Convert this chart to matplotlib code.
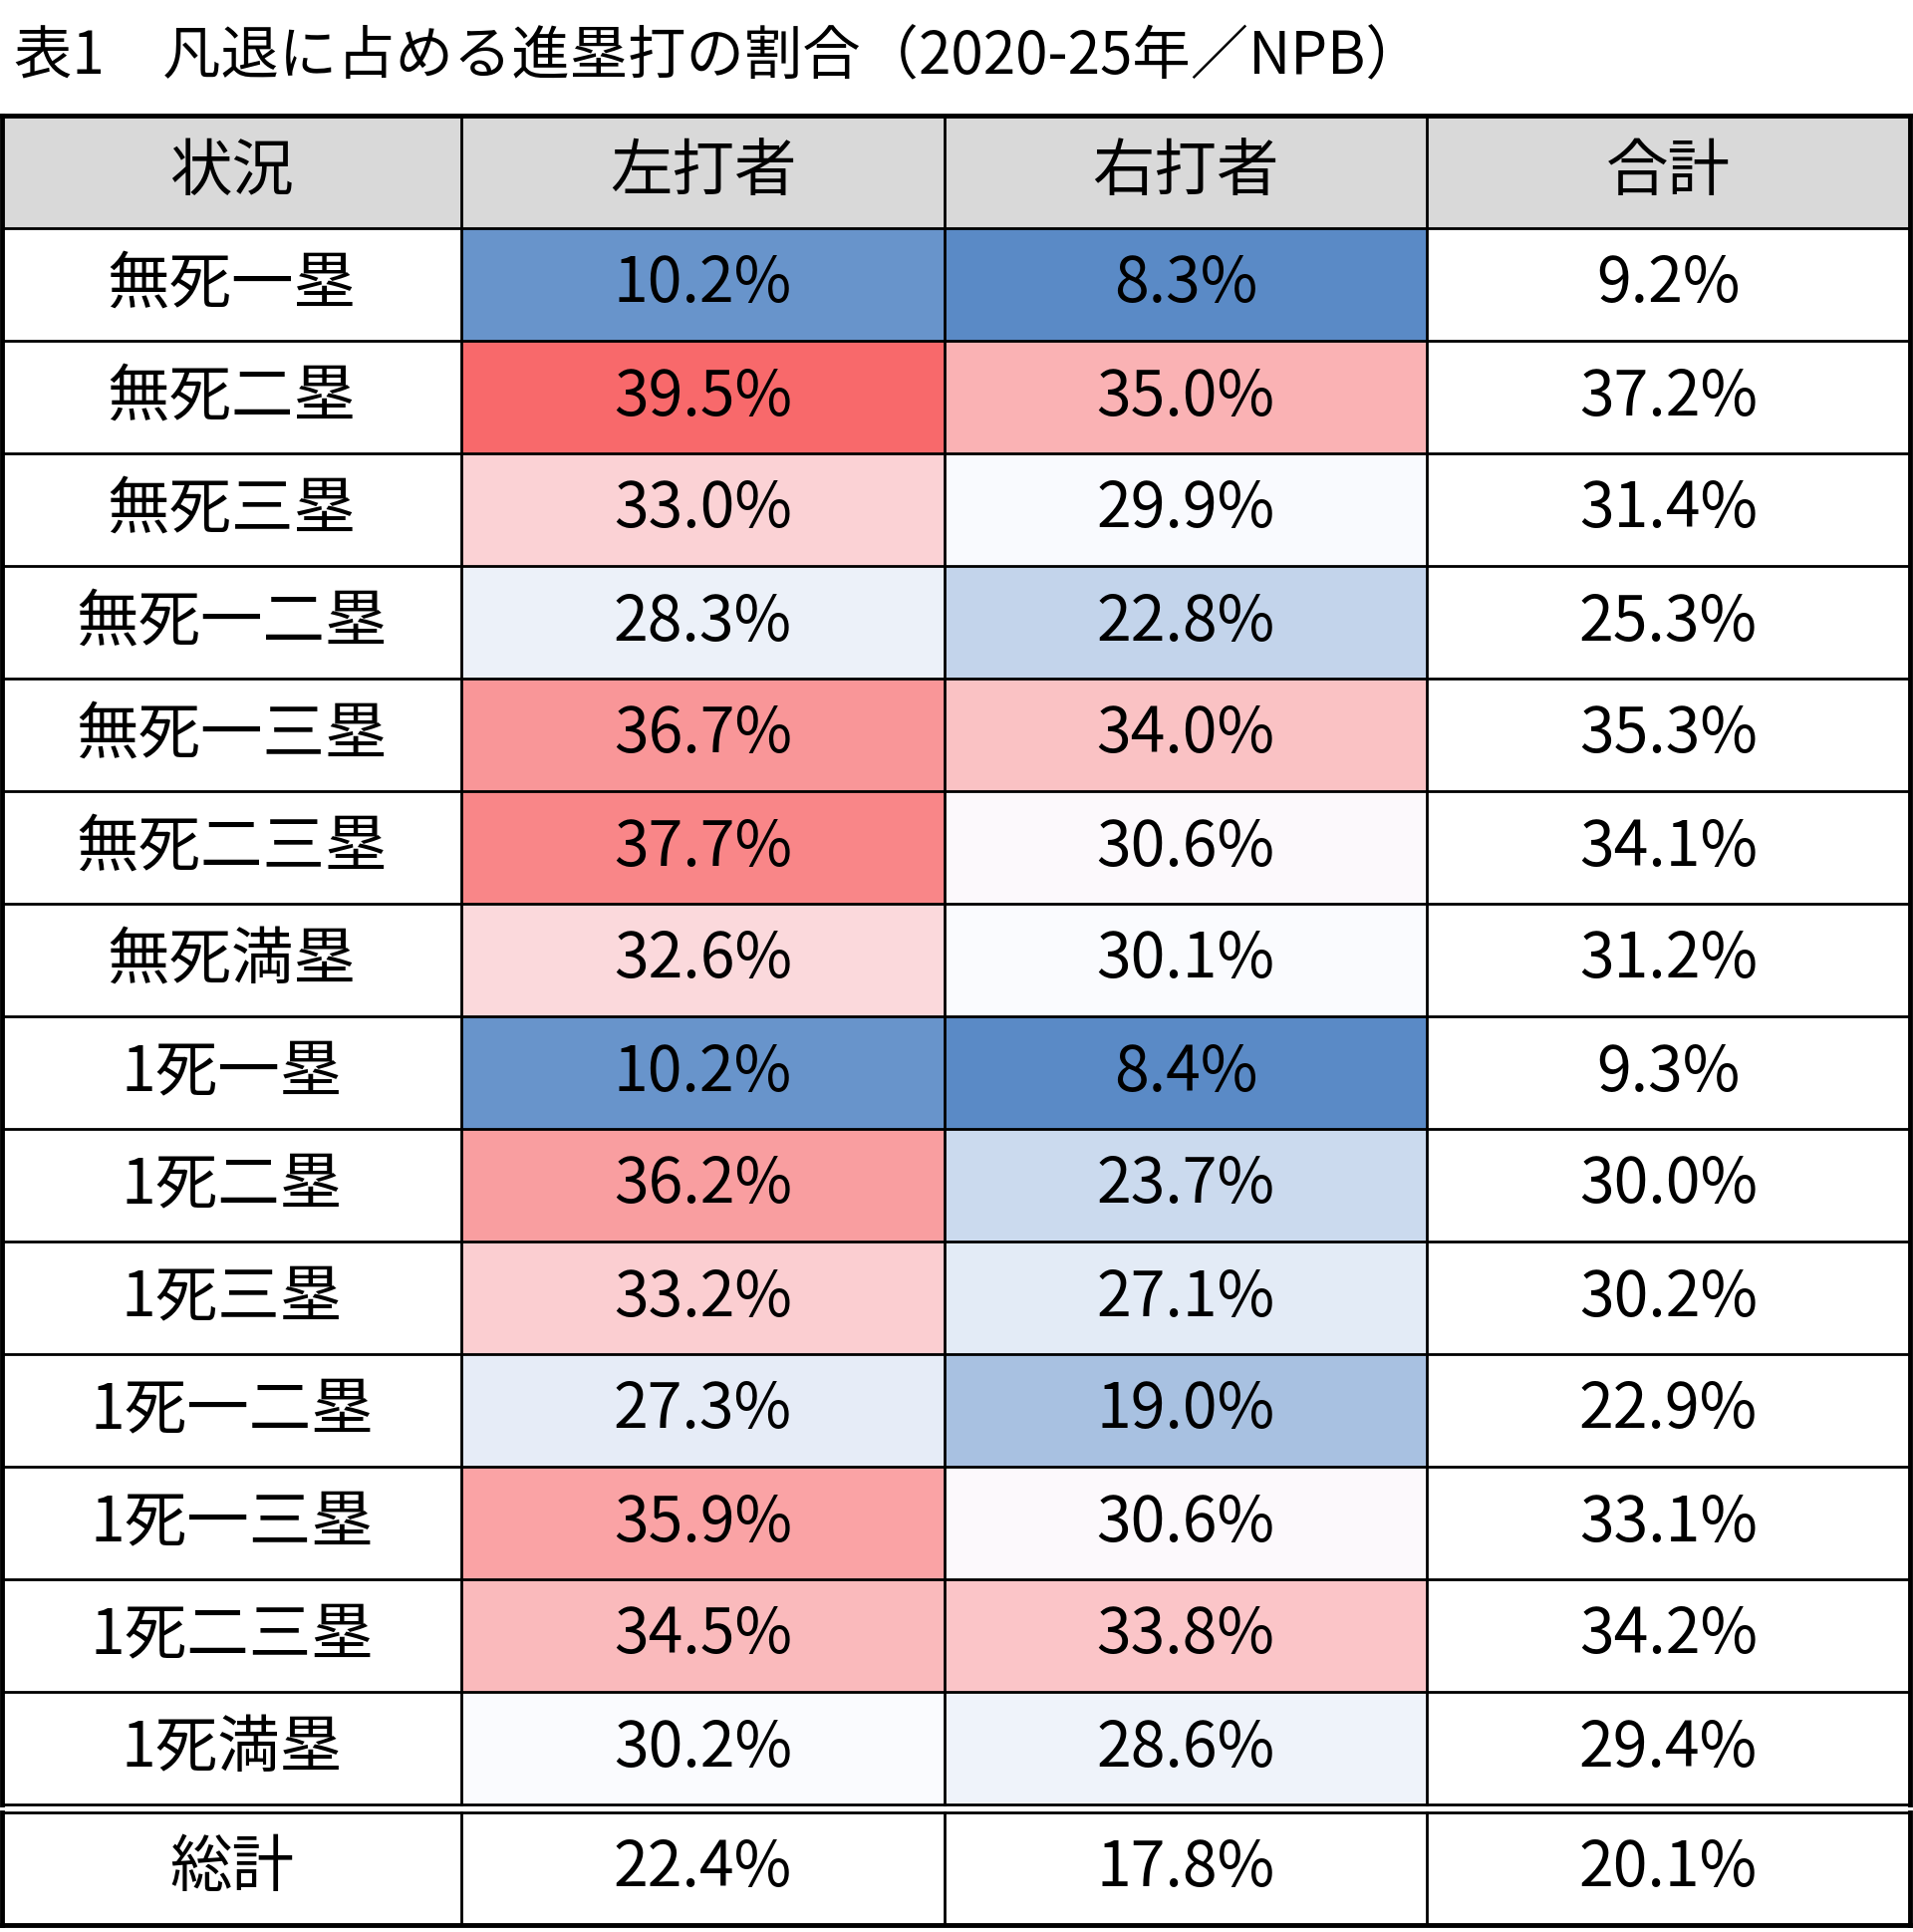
import matplotlib
matplotlib.use("Agg")
import matplotlib.pyplot as plt
from matplotlib.colors import LinearSegmentedColormap, TwoSlopeNorm
from matplotlib.patches import Rectangle

plt.rcParams['font.family'] = ['Noto Sans CJK JP', 'DejaVu Sans']

title = "表1　凡退に占める進塁打の割合（2020-25年／NPB）"
headers = ["状況", "左打者", "右打者", "合計"]
situations = ["無死一塁", "無死二塁", "無死三塁", "無死一二塁", "無死一三塁", "無死二三塁", "無死満塁",
              "1死一塁", "1死二塁", "1死三塁", "1死一二塁", "1死一三塁", "1死二三塁", "1死満塁"]
left = [10.2, 39.5, 33.0, 28.3, 36.7, 37.7, 32.6, 10.2, 36.2, 33.2, 27.3, 35.9, 34.5, 30.2]
right = [8.3, 35.0, 29.9, 22.8, 34.0, 30.6, 30.1, 8.4, 23.7, 27.1, 19.0, 30.6, 33.8, 28.6]
total = [9.2, 37.2, 31.4, 25.3, 35.3, 34.1, 31.2, 9.3, 30.0, 30.2, 22.9, 33.1, 34.2, 29.4]
grand_label = "総計"
grand = [22.4, 17.8, 20.1]

cmap = LinearSegmentedColormap.from_list("excel", ["#5A8AC6", "#FCFCFF", "#F8696B"])
allv = sorted(left + right)
n = len(allv)
med = (allv[n // 2 - 1] + allv[n // 2]) / 2
norm = TwoSlopeNorm(vmin=min(allv), vcenter=med, vmax=max(allv))

W, H = 1920, 1939
fig = plt.figure(figsize=(W / 100, H / 100), dpi=100)
ax = fig.add_axes([0, 0, 1, 1])
ax.set_xlim(0, W)
ax.set_ylim(H, 0)
ax.axis('off')

colx = [2, 463, 948, 1432, 1917]
top = 116
rh = 113
hdr_bot = top + rh
body_bot = hdr_bot + rh * len(situations)
gap = 8
g_top = body_bot + gap
g_bot = g_top + rh

ax.text(14, 58, title, fontsize=42, va='center', ha='left')

fs = 45
# header
ax.add_patch(Rectangle((colx[0], top), colx[-1] - colx[0], rh, facecolor='#D9D9D9', edgecolor='none'))
for j, h in enumerate(headers):
    ax.text((colx[j] + colx[j + 1]) / 2, top + rh / 2, h, fontsize=fs, ha='center', va='center')

for i, s in enumerate(situations):
    y0 = hdr_bot + i * rh
    yc = y0 + rh / 2
    vals = [left[i], right[i], total[i]]
    for j, v in enumerate(vals):
        if j < 2:
            ax.add_patch(Rectangle((colx[j + 1], y0), colx[j + 2] - colx[j + 1], rh,
                                   facecolor=cmap(norm(v)), edgecolor='none'))
        ax.text((colx[j + 1] + colx[j + 2]) / 2, yc, f"{v:.1f}%", fontsize=fs, ha='center', va='center')
    ax.text((colx[0] + colx[1]) / 2, yc, s, fontsize=fs, ha='center', va='center')

ax.text((colx[0] + colx[1]) / 2, g_top + rh / 2, grand_label, fontsize=fs, ha='center', va='center')
for j, v in enumerate(grand):
    ax.text((colx[j + 1] + colx[j + 2]) / 2, g_top + rh / 2, f"{v:.1f}%", fontsize=fs, ha='center', va='center')

lw = 2.0
# horizontal lines
ax.plot([colx[0], colx[-1]], [top, top], color='black', lw=3.5)
for i in range(len(situations)):
    y = hdr_bot + i * rh
    ax.plot([colx[0], colx[-1]], [y, y], color='black', lw=lw)
ax.plot([colx[0], colx[-1]], [body_bot, body_bot], color='black', lw=lw)
ax.plot([colx[0], colx[-1]], [g_top, g_top], color='black', lw=lw)
ax.plot([colx[0], colx[-1]], [g_bot, g_bot], color='black', lw=3.5)
# vertical lines
for k, x in enumerate(colx):
    w = 3.5 if k in (0, len(colx) - 1) else lw
    ax.plot([x, x], [top, body_bot], color='black', lw=w)
    ax.plot([x, x], [g_top, g_bot], color='black', lw=w)

fig.savefig("out.png", dpi=100, facecolor='white')
